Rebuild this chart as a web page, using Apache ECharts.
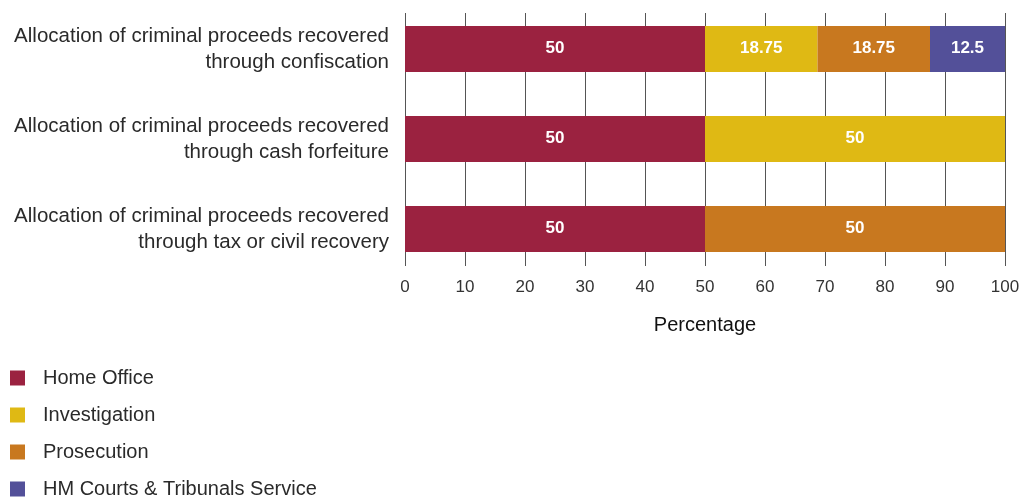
<!DOCTYPE html>
<html><head><meta charset="utf-8">
<script src="https://cdn.jsdelivr.net/npm/echarts@6/dist/echarts.min.js"></script>
<style>html,body{margin:0;padding:0;background:#fff}#c{width:1033px;height:497px}</style>
</head><body><div id="c"></div>
<script>
var categories = [
  'Allocation of criminal proceeds recovered\nthrough confiscation',
  'Allocation of criminal proceeds recovered\nthrough cash forfeiture',
  'Allocation of criminal proceeds recovered\nthrough tax or civil recovery'
];
var seriesNames = ['Home Office', 'Investigation', 'Prosecution', 'HM Courts & Tribunals Service'];
var homeOffice = [50, 50, 50];
var investigation = [18.75, 50, null];
var prosecution = [18.75, null, 50];
var hmcts = [12.5, null, null];
var xTicks = [0, 100, 10];
var colors = ['#9B2240', '#DFB914', '#C8781F', '#535099'];
var values = [homeOffice, investigation, prosecution, hmcts];
var font = '"Liberation Sans", Arial, sans-serif';

var chart = echarts.init(document.getElementById('c'), null, {renderer: 'canvas'});
var series = seriesNames.map(function (n, i) {
  return {
    name: n, type: 'bar', stack: 'total', xAxisIndex: 0, yAxisIndex: 0,
    barWidth: 46, data: values[i], itemStyle: {color: colors[i]},
    label: {show: true, position: 'inside', color: '#fff', fontSize: 17, fontWeight: 'bold', fontFamily: font,
      offset: [0, -1],
      formatter: function (p) { return p.value == null ? '' : String(p.value); }}
  };
});
var legends = seriesNames.map(function (n, i) {
  return {
    orient: 'vertical', left: 10, top: 368 + i * 37, padding: 0, itemWidth: 15, itemHeight: 15,
    icon: 'rect', data: [n], selectedMode: false,
    textStyle: {color: '#2a2a2a', fontSize: 20, padding: [0, 0, 0, 13], fontFamily: font}
  };
});
chart.setOption({
  animation: false,
  textStyle: {fontFamily: font},
  grid: [
    {left: 405, right: 28, top: 4, height: 270},
    {left: 405, right: 28, top: 13, height: 253}
  ],
  xAxis: [
    {gridIndex: 0, type: 'value', min: xTicks[0], max: xTicks[1], show: false},
    {gridIndex: 1, type: 'value', min: xTicks[0], max: xTicks[1], interval: xTicks[2],
      axisLine: {show: false}, axisTick: {show: false},
      splitLine: {show: true, lineStyle: {color: '#555', width: 1}},
      axisLabel: {color: '#333', fontSize: 17, margin: 13, fontFamily: font},
      name: 'Percentage', nameLocation: 'middle', nameGap: 49,
      nameTextStyle: {color: '#111', fontSize: 20, fontFamily: font}}
  ],
  yAxis: [
    {gridIndex: 0, type: 'category', inverse: true, data: categories,
      axisLine: {show: false}, axisTick: {show: false}, splitLine: {show: false},
      axisLabel: {color: '#2a2a2a', fontSize: 20.5, lineHeight: 26, margin: 16, align: 'right', fontFamily: font}},
    {gridIndex: 1, type: 'value', show: false}
  ],
  legend: legends,
  series: series
});
</script></body></html>
